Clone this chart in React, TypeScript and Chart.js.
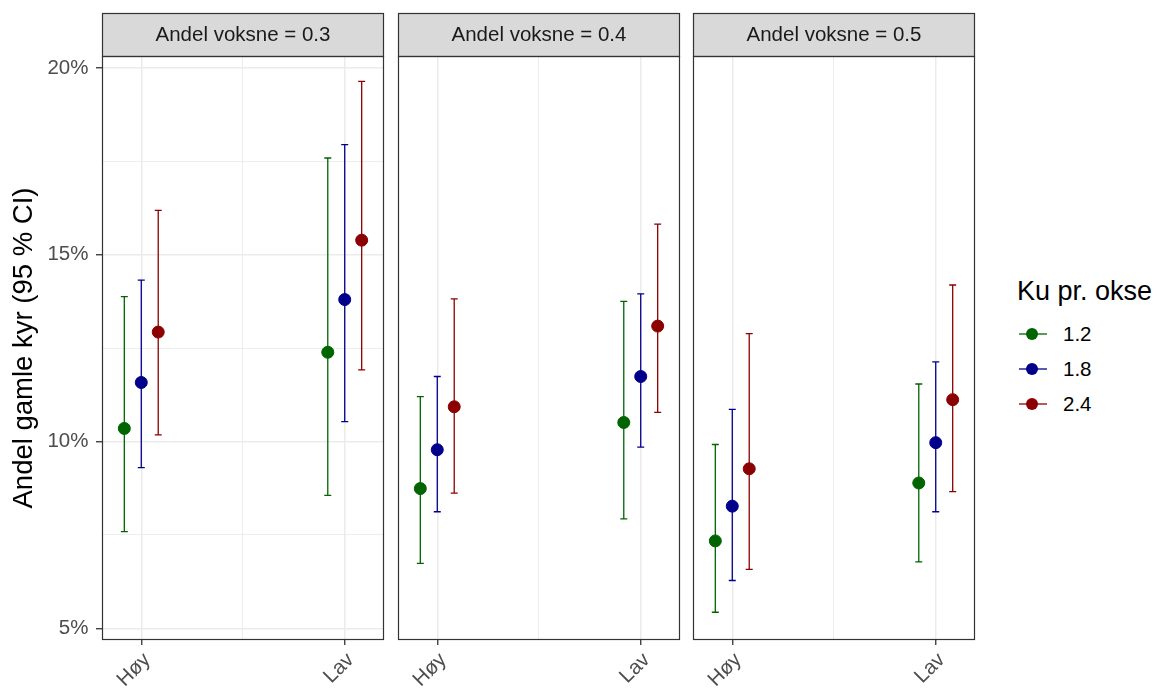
import React, { useEffect, useRef } from 'react';
import { Chart, registerables } from 'chart.js';

Chart.register(...registerables);

// ---- data ----
const FACETS = ['0.3', '0.4', '0.5'];
const CATEGORIES = ['Høy', 'Lav'];
const SERIES = ['1.2', '1.8', '2.4'];
const COLORS = ['#006400', '#00008B', '#8B0000'];

// values per facet (0.3, 0.4, 0.5) x category (Høy, Lav), in percent
const est12 = [10.35, 12.39, 8.74, 10.51, 7.34, 8.89];
const lo12 = [7.59, 8.56, 6.74, 7.93, 5.43, 6.78];
const hi12 = [13.88, 17.59, 11.2, 13.75, 9.92, 11.54];

const est18 = [11.58, 13.8, 9.78, 11.74, 8.27, 9.97];
const lo18 = [9.3, 10.53, 8.12, 9.85, 6.28, 8.12];
const hi18 = [14.32, 17.95, 11.74, 13.95, 10.86, 12.13];

const est24 = [12.93, 15.39, 10.93, 13.09, 9.27, 11.12];
const lo24 = [10.18, 11.92, 8.62, 10.78, 6.58, 8.66];
const hi24 = [16.19, 19.64, 13.82, 15.82, 12.89, 14.19];

const EST = [est12, est18, est24];
const LO = [lo12, lo18, lo24];
const HI = [hi12, hi18, hi24];

const Y_TICKS = [5, 7.5, 10, 12.5, 15, 17.5, 20];
const Y_LABELED = [5, 10, 15, 20];
const X_TICKS = [1, 1.5, 2];
const DODGE = 0.25;

const FONT = "'Liberation Sans', Arial, sans-serif";

const PANEL_LEFTS = [102, 398, 693];
const PANEL_W = 284;

function Panel({ facet, showY }: { facet: number; showY: boolean }) {
  const ref = useRef<HTMLCanvasElement | null>(null);
  const panelLeft = PANEL_LEFTS[facet];
  const padL = showY ? 0 : 20;
  const padR = 5;
  const canvasLeft = panelLeft - (showY ? 102 : padL);
  const canvasW = (showY ? 102 : padL) + PANEL_W + padR;

  useEffect(() => {
    const canvas = ref.current;
    if (!canvas) return;
    const datasets = SERIES.map((s, si) => ({
      label: s,
      data: CATEGORIES.map((c, ci) => ({
        x: ci + 1 + (si - 1) * (DODGE / 3),
        y: EST[si][facet * 2 + ci],
        lo: LO[si][facet * 2 + ci],
        hi: HI[si][facet * 2 + ci],
      })),
      backgroundColor: COLORS[si],
      borderColor: COLORS[si],
      pointRadius: 6,
      pointHoverRadius: 6,
      showLine: false,
    }));

    const panelPlugin = {
      id: 'panelDeco',
      beforeDatasetsDraw(chart: any) {
        const { ctx, chartArea, scales } = chart;
        ctx.save();
        ctx.beginPath();
        ctx.rect(chartArea.left, chartArea.top, chartArea.right - chartArea.left, chartArea.bottom - chartArea.top);
        ctx.clip();
        ctx.lineWidth = 1.3;
        chart.data.datasets.forEach((ds: any) => {
          ctx.strokeStyle = ds.borderColor;
          ds.data.forEach((p: any) => {
            const x = scales.x.getPixelForValue(p.x);
            const yl = scales.y.getPixelForValue(p.lo);
            const yh = scales.y.getPixelForValue(p.hi);
            ctx.beginPath();
            ctx.moveTo(x, yl);
            ctx.lineTo(x, yh);
            ctx.moveTo(x - 3.5, yl);
            ctx.lineTo(x + 3.5, yl);
            ctx.moveTo(x - 3.5, yh);
            ctx.lineTo(x + 3.5, yh);
            ctx.stroke();
          });
        });
        ctx.restore();
      },
      afterDraw(chart: any) {
        const { ctx, chartArea } = chart;
        const l = chartArea.left;
        const r = chartArea.right;
        const t = chartArea.top;
        const b = chartArea.bottom;
        ctx.save();
        // strip
        ctx.fillStyle = '#D9D9D9';
        ctx.fillRect(l, 13, r - l, t - 13);
        ctx.strokeStyle = '#333333';
        ctx.lineWidth = 1.2;
        ctx.strokeRect(l + 0.5, 13.5, r - l - 1, t - 13);
        ctx.fillStyle = '#1A1A1A';
        ctx.font = `20.5px ${FONT}`;
        ctx.textAlign = 'center';
        ctx.textBaseline = 'middle';
        ctx.fillText(`Andel voksne = ${FACETS[facet]}`, (l + r) / 2, (13 + t) / 2 + 1);
        // panel border
        ctx.strokeRect(l + 0.5, t + 0.5, r - l - 1, b - t - 1);
        ctx.restore();
      },
    };

    const chart = new Chart(canvas, {
      type: 'scatter',
      data: { datasets } as any,
      options: {
        animation: false,
        responsive: false,
        events: [],
        layout: { padding: { top: 56, left: padL, right: padR, bottom: 0 } },
        plugins: { legend: { display: false }, tooltip: { enabled: false } },
        scales: {
          x: {
            type: 'linear',
            min: 0.807,
            max: 2.193,
            afterBuildTicks: (scale: any) => {
              scale.ticks = X_TICKS.map((v) => ({ value: v }));
            },
            afterFit: (scale: any) => {
              scale.height = 48;
            },
            border: { display: false },
            grid: {
              color: '#EBEBEB',
              lineWidth: (c: any) => (c.tick && c.tick.value === 1.5 ? 0.9 : 1.5),
              tickColor: (c: any) => (c.tick && c.tick.value === 1.5 ? 'rgba(0,0,0,0)' : '#333333'),
              tickLength: 5,
              tickWidth: 1.3,
            },
            ticks: {
              autoSkip: false,
              minRotation: 45,
              maxRotation: 45,
              padding: 3,
              labelOffset: 6,
              color: '#4D4D4D',
              font: { family: FONT, size: 20.5 },
              callback: (v: any) => (v === 1 ? CATEGORIES[0] : v === 2 ? CATEGORIES[1] : ''),
            },
          },
          y: {
            type: 'linear',
            min: 4.687,
            max: 20.32,
            display: showY ? true : false,
            afterBuildTicks: (scale: any) => {
              scale.ticks = Y_TICKS.map((v) => ({ value: v }));
            },
            afterFit: (scale: any) => {
              scale.width = showY ? 102 : 0;
            },
            border: { display: false },
            grid: {
              color: '#EBEBEB',
              lineWidth: (c: any) => (c.tick && Y_LABELED.includes(c.tick.value) ? 1.5 : 0.9),
              tickColor: (c: any) => (c.tick && Y_LABELED.includes(c.tick.value) ? '#333333' : 'rgba(0,0,0,0)'),
              tickLength: 6,
              tickWidth: 1.3,
            },
            ticks: {
              padding: 7.5,
              color: '#4D4D4D',
              font: { family: FONT, size: 20.5 },
              callback: (v: any) => (Y_LABELED.includes(v) ? `${v}%` : ''),
            },
            title: {
              display: true,
              text: 'Andel gamle kyr (95 % CI)',
              color: '#000000',
              font: { family: FONT, size: 27.5, lineHeight: 1.2 },
              padding: { top: 8, bottom: 0 },
            },
          },
        },
      } as any,
      plugins: [panelPlugin],
    });
    return () => chart.destroy();
  }, [facet, showY]);

  return (
    <canvas
      ref={ref}
      width={canvasW}
      height={688}
      style={{ position: 'absolute', left: canvasLeft, top: 0, width: canvasW, height: 688 }}
    />
  );
}

function LegendKey({ color }: { color: string }) {
  return (
    <svg width={30} height={14} style={{ position: 'absolute', left: 0, top: -7 }}>
      <line x1={1} y1={7} x2={29} y2={7} stroke={color} strokeWidth={1.3} />
      <circle cx={14} cy={7} r={6} fill={color} />
    </svg>
  );
}

export default function App() {
  const centers = [334, 368.5, 403.5];
  return (
    <div
      style={{
        position: 'fixed',
        left: 0,
        top: 0,
        width: 1157,
        height: 688,
        background: '#FFFFFF',
        overflow: 'hidden',
        fontFamily: FONT,
      }}
    >
      {FACETS.map((f, i) => (
        <Panel key={f} facet={i} showY={i === 0} />
      ))}
      <div
        style={{
          position: 'absolute',
          left: 1017,
          top: 276,
          fontSize: 27,
          lineHeight: '31px',
          color: '#000000',
          whiteSpace: 'nowrap',
        }}
      >
        Ku pr. okse
      </div>
      {SERIES.map((s, i) => (
        <div key={s} style={{ position: 'absolute', left: 1018, top: centers[i] }}>
          <LegendKey color={COLORS[i]} />
          <div
            style={{
              position: 'absolute',
              left: 45,
              top: -12,
              fontSize: 20.5,
              lineHeight: '24px',
              color: '#000000',
              whiteSpace: 'nowrap',
            }}
          >
            {s}
          </div>
        </div>
      ))}
    </div>
  );
}
